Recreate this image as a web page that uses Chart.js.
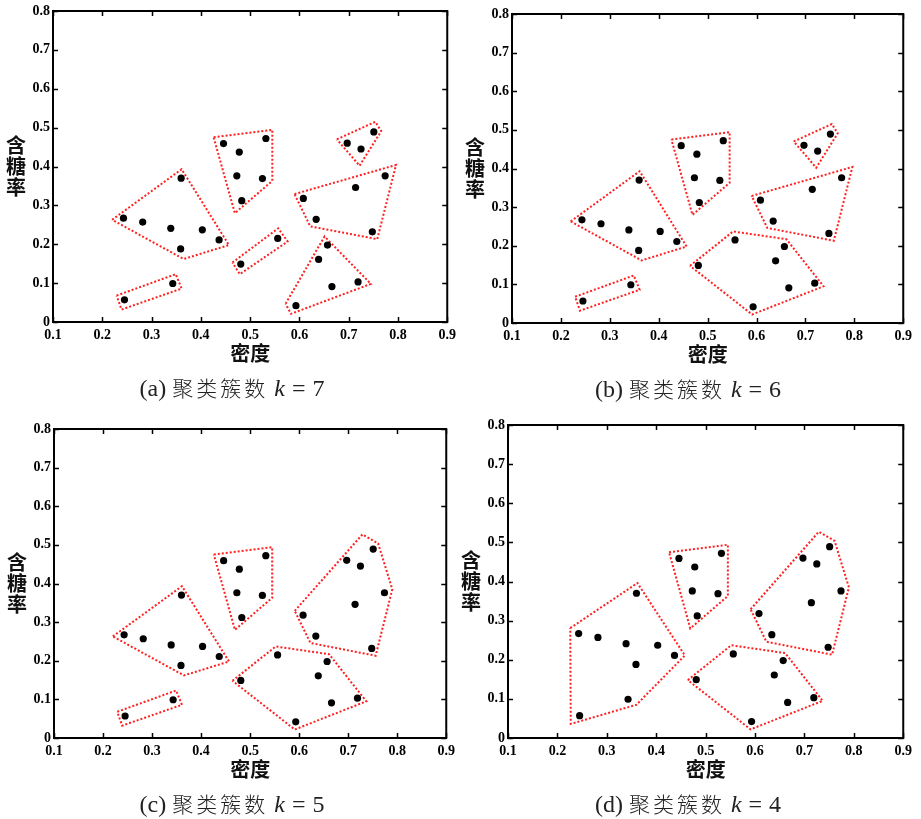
<!DOCTYPE html>
<html lang="zh">
<head>
  <meta charset="UTF-8" />
  <title>聚类簇数对比</title>
  <script src="https://cdn.jsdelivr.net/npm/chart.js"></script>
  <style>
    body { margin: 0; background: #fff; }
    .stage { position: relative; width: 921px; height: 819px; overflow: hidden; }
    .stage canvas { position: absolute; }
    .caption {
      position: absolute; width: 300px; text-align: center;
      font-family: "Liberation Serif", "Noto Sans CJK SC", serif;
      font-size: 24px; line-height: 26px; color: #222;
    }
    .caption .cjk { font-family: "Noto Sans CJK SC", sans-serif; font-size: 21px; letter-spacing: 3px; font-weight: 300; }
    .caption .op { padding: 0 7px; }
  </style>
</head>
<body>
  <div class="stage" id="stage"></div>

  <script>
    // watermelon data: density / sugar ratio
    const density = [0.697, 0.774, 0.634, 0.608, 0.556, 0.403, 0.481, 0.437, 0.666, 0.243,
                     0.245, 0.343, 0.639, 0.657, 0.360, 0.593, 0.719, 0.359, 0.339, 0.282,
                     0.748, 0.714, 0.483, 0.478, 0.525, 0.751, 0.532, 0.473, 0.725, 0.446];
    const sugar   = [0.460, 0.376, 0.264, 0.318, 0.215, 0.237, 0.149, 0.211, 0.091, 0.267,
                     0.057, 0.099, 0.161, 0.198, 0.370, 0.042, 0.103, 0.188, 0.241, 0.257,
                     0.232, 0.346, 0.312, 0.437, 0.369, 0.489, 0.472, 0.376, 0.445, 0.459];

    const xTicks = [0.1, 0.2, 0.3, 0.4, 0.5, 0.6, 0.7, 0.8, 0.9];
    const yTicks = [0, 0.1, 0.2, 0.3, 0.4, 0.5, 0.6, 0.7, 0.8];

    // cluster outlines (density, sugar)
    const polyLeft        = [[0.220, 0.263], [0.361, 0.393], [0.457, 0.198], [0.365, 0.162]];
    const polyTopMid      = [[0.426, 0.475], [0.545, 0.494], [0.545, 0.363], [0.469, 0.280]];
    const polyTopRight    = [[0.676, 0.470], [0.754, 0.515], [0.766, 0.491], [0.722, 0.402]];
    const polyRightMid    = [[0.590, 0.329], [0.796, 0.404], [0.758, 0.213], [0.622, 0.246]];
    const polyMidSmall    = [[0.464, 0.153], [0.557, 0.241], [0.576, 0.207], [0.479, 0.123]];
    const polyBottomRight = [[0.572, 0.047], [0.651, 0.220], [0.745, 0.098], [0.583, 0.021]];
    const polyBottomLeft  = [[0.229, 0.068], [0.349, 0.123], [0.361, 0.086], [0.239, 0.032]];
    const polyBottomBig   = [[0.464, 0.148], [0.552, 0.237], [0.661, 0.217], [0.737, 0.095], [0.591, 0.022]];
    const polyRightBig    = [[0.591, 0.329], [0.729, 0.527], [0.761, 0.504], [0.790, 0.385], [0.756, 0.213], [0.623, 0.246]];
    const polyLeftBig     = [[0.226, 0.281], [0.362, 0.396], [0.458, 0.211], [0.360, 0.085], [0.227, 0.036]];

    const panels = [
      { tag: 'a', k: 7, L: 53, R: 449, T: 11, B: 322, cap: 232,
        polys: [polyLeft, polyTopMid, polyTopRight, polyRightMid, polyMidSmall, polyBottomRight, polyBottomLeft] },
      { tag: 'b', k: 6, L: 512, R: 905, T: 14, B: 323, cap: 688,
        polys: [polyLeft, polyTopMid, polyTopRight, polyRightMid, polyBottomBig, polyBottomLeft] },
      { tag: 'c', k: 5, L: 54, R: 448, T: 429, B: 738, cap: 232,
        polys: [polyLeft, polyTopMid, polyRightBig, polyBottomBig, polyBottomLeft] },
      { tag: 'd', k: 4, L: 508, R: 905, T: 425, B: 738, cap: 688,
        polys: [polyLeftBig, polyTopMid, polyRightBig, polyBottomBig] }
    ];

    const tickFont = { family: '"Liberation Serif", serif', size: 14, weight: 'bold' };

    // frame, inward ticks on all four sides, axis titles
    const framePlugin = {
      id: 'frame',
      afterDatasetsDraw(chart) {
        const { ctx, chartArea: a, scales } = chart;
        ctx.save();
        ctx.strokeStyle = '#000';
        ctx.lineWidth = 1.5;
        xTicks.forEach(v => {
          const px = Math.round(scales.x.getPixelForValue(v)) + 0.5;
          ctx.beginPath();
          ctx.moveTo(px, a.bottom); ctx.lineTo(px, a.bottom - 5);
          ctx.moveTo(px, a.top); ctx.lineTo(px, a.top + 5);
          ctx.stroke();
        });
        yTicks.forEach(v => {
          const py = Math.round(scales.y.getPixelForValue(v)) + 0.5;
          ctx.beginPath();
          ctx.moveTo(a.left, py); ctx.lineTo(a.left + 5, py);
          ctx.moveTo(a.right, py); ctx.lineTo(a.right - 5, py);
          ctx.stroke();
        });
        ctx.lineWidth = 2;
        ctx.strokeRect(a.left, a.top, a.right - a.left, a.bottom - a.top);

        ctx.fillStyle = '#111';
        ctx.font = 'bold 20px "Noto Sans CJK SC", sans-serif';
        ctx.textAlign = 'center';
        ctx.textBaseline = 'middle';
        ctx.fillText('密度', (a.left + a.right) / 2, a.bottom + 31);
        const cy = (a.top + a.bottom) / 2;
        ['含', '糖', '率'].forEach((ch, i) => ctx.fillText(ch, a.left - 37, cy + (i - 1) * 21));
        ctx.restore();
      }
    };

    const stage = document.getElementById('stage');

    panels.forEach(p => {
      const padL = 50, padT = 12, padR = 12, padB = 70;
      const cv = document.createElement('canvas');
      cv.width = p.R - p.L + padL + padR;
      cv.height = p.B - p.T + padT + padB;
      cv.style.left = (p.L - padL) + 'px';
      cv.style.top = (p.T - padT) + 'px';
      stage.appendChild(cv);

      const datasets = [{
        data: density.map((d, i) => ({ x: d, y: sugar[i] })),
        pointRadius: 3.6,
        pointBackgroundColor: '#000',
        pointBorderWidth: 0,
        showLine: false
      }];
      p.polys.forEach(poly => {
        const pts = poly.map(v => ({ x: v[0], y: v[1] }));
        pts.push(pts[0]);
        datasets.push({
          data: pts,
          showLine: true,
          pointRadius: 0,
          borderColor: '#ff2020',
          borderWidth: 2,
          borderDash: [2, 2],
          tension: 0,
          fill: false
        });
      });

      new Chart(cv.getContext('2d'), {
        type: 'scatter',
        data: { datasets },
        options: {
          responsive: false,
          animation: false,
          events: [],
          layout: { padding: { top: padT, right: padR, left: 0, bottom: 0 } },
          plugins: { legend: { display: false }, tooltip: { enabled: false } },
          scales: {
            x: {
              type: 'linear', min: 0.1, max: 0.9,
              afterFit: s => { s.height = padB; },
              afterBuildTicks: s => { s.ticks = xTicks.map(v => ({ value: v })); },
              grid: { display: false, drawTicks: false },
              border: { display: false },
              ticks: {
                padding: 5, maxRotation: 0, autoSkip: false, color: '#000', font: tickFont,
                callback: v => Number(v).toFixed(1)
              }
            },
            y: {
              type: 'linear', min: 0, max: 0.8,
              afterFit: s => { s.width = padL; },
              afterBuildTicks: s => { s.ticks = yTicks.map(v => ({ value: v })); },
              grid: { display: false, drawTicks: false },
              border: { display: false },
              ticks: {
                padding: 3, autoSkip: false, color: '#000', font: tickFont,
                callback: v => (v === 0 ? '0' : Number(v).toFixed(1))
              }
            }
          }
        },
        plugins: [framePlugin]
      });

      const cap = document.createElement('div');
      cap.className = 'caption';
      cap.style.left = (p.cap - 150) + 'px';
      cap.style.top = (p.B + 65 - 13) + 'px';
      cap.innerHTML = '(' + p.tag + ') <span class="cjk">聚类簇数</span> <i>k</i><span class="op">=</span>' + p.k;
      stage.appendChild(cap);
    });
  </script>
</body>
</html>
